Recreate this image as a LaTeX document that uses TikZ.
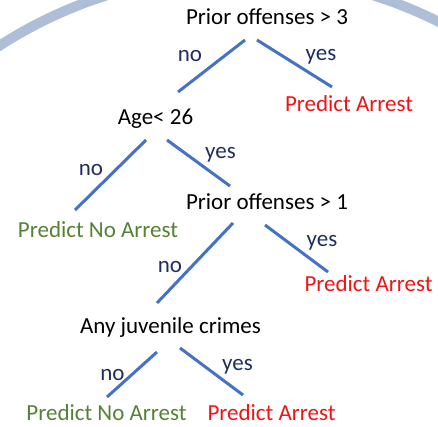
\documentclass[tikz,border=0pt]{standalone}
\usepackage{fontspec}
\setmainfont{Carlito}
\definecolor{branch}{RGB}{68,114,196}
\definecolor{navy}{RGB}{31,45,95}
\definecolor{arrestred}{RGB}{240,20,20}
\definecolor{noarrest}{RGB}{84,130,53}
\definecolor{ring}{RGB}{175,190,215}
\begin{document}
\begin{tikzpicture}[x=1pt,y=-1pt,
  txt/.style={anchor=base,inner sep=0pt,font=\fontsize{23}{27}\selectfont},
  test/.style={txt,text=black},
  yes/.style={txt,text=arrestred},
  nope/.style={txt,text=noarrest},
  lbl/.style={txt,text=navy},
  edge/.style={draw=branch,line width=3pt}]
\useasboundingbox (0,0) rectangle (438,427);
\begin{scope}
\clip (0,0) rectangle (438,427);
\draw[ring,line width=10pt] (240,419) circle[radius=444];
\end{scope}
% nodes
\node[test] (t1) at (267,25) {Prior offenses > 3};
\node[yes] (r1) at (349,112) {Predict Arrest};
\node[test] (t2) at (155.5,125) {Age< 26};
\node[test] (t3) at (267,210) {Prior offenses > 1};
\node[nope] (g1) at (98,237) {Predict No Arrest};
\node[yes] (r2) at (368.5,291) {Predict Arrest};
\node[test] (t4) at (170.5,333) {Any juvenile crimes};
\node[nope] (g2) at (106.5,420) {Predict No Arrest};
\node[yes] (r3) at (271.5,420) {Predict Arrest};
% edge labels
\node[lbl] (n1) at (190,62) {no};
\node[lbl] (y1) at (321,61) {yes};
\node[lbl] (n2) at (91,176) {no};
\node[lbl] (y2) at (220.5,159) {yes};
\node[lbl] (n3) at (170,272) {no};
\node[lbl] (y3) at (322,247) {yes};
\node[lbl] (n4) at (112.5,380) {no};
\node[lbl] (y4) at (237.5,370) {yes};
% connector ends
\coordinate (a1) at (245,40);  \coordinate (a2) at (178,92);
\coordinate (b1) at (257,40);  \coordinate (b2) at (332,87);
\coordinate (c1) at (146,140); \coordinate (c2) at (75,210);
\coordinate (d1) at (167,140); \coordinate (d2) at (230,186);
\coordinate (e1) at (233,223); \coordinate (e2) at (157,303);
\coordinate (f1) at (265,225); \coordinate (f2) at (328,272);
\coordinate (g1s) at (157,352); \coordinate (g1e) at (107,397);
\coordinate (h1) at (180,348); \coordinate (h2) at (243,395);
\draw[edge] (a1) -- (a2);
\draw[edge] (b1) -- (b2);
\draw[edge] (c1) -- (c2);
\draw[edge] (d1) -- (d2);
\draw[edge] (e1) -- (e2);
\draw[edge] (f1) -- (f2);
\draw[edge] (g1s) -- (g1e);
\draw[edge] (h1) -- (h2);
\end{tikzpicture}
\end{document}
